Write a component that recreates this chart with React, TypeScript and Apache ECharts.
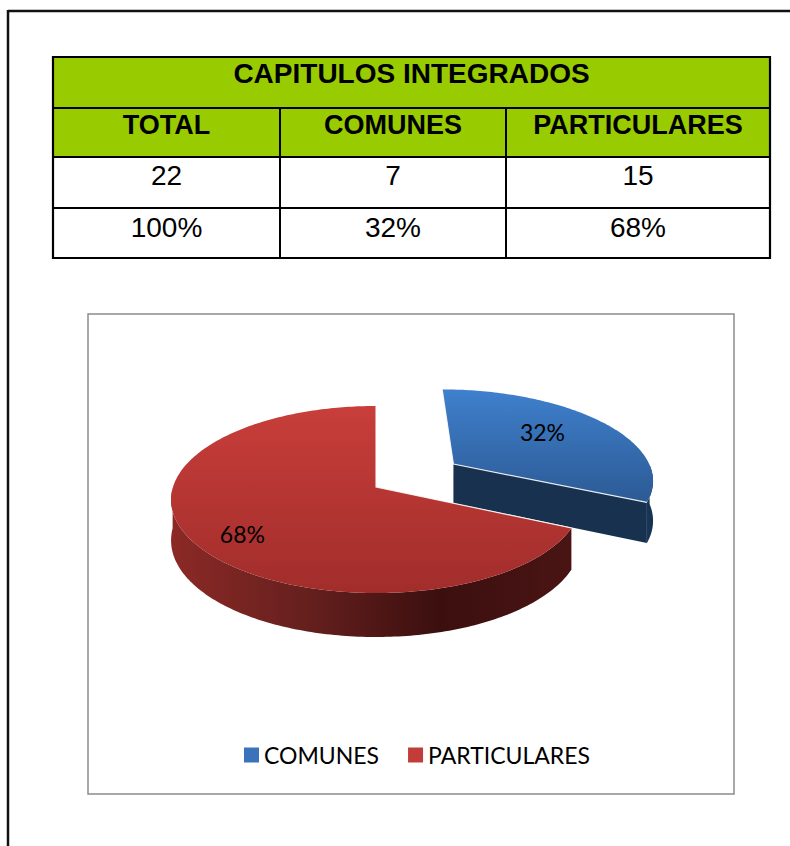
import React, { useEffect, useRef } from "react";
import * as echarts from "echarts";

// ---------- data ----------
const tableTitle = "CAPITULOS INTEGRADOS";
const tableHeaders = ["TOTAL", "COMUNES", "PARTICULARES"];
const tableCounts = ["22", "7", "15"];
const tablePercents = ["100%", "32%", "68%"];

const categories = ["COMUNES", "PARTICULARES"];
const chapterCounts = [7, 15];

// ---------- layout / style ----------
const TABLE_X = [53, 280, 506, 770];
const TABLE_Y = [57, 108, 157, 208, 258];
const ROW_TEXT_Y = [73, 124.5, 175.5, 227];
const GREEN = "#99cc00";
const BOX = { x: 88, y: 314, w: 646, h: 480 };
const PIE = { cx: 376, cy: 487, a: 203, b: 93.5, c: 12.5, k: 0.14, depth: 40 };
const EXPLODE = [0.47, 0];
const LABEL_R = [0.64, 0.78];
const LABEL_SHIFT_DEG = 5;
const DEG = Math.PI / 180;
const PALETTE = [
  {
    legend: "#3a73b9",
    top: ["#3f80cd", "#2c5a95"],
    wall: ["#1a3658", "#15304f"],
    face: "#17314f",
  },
  {
    legend: "#c23d39",
    top: ["#c83e3a", "#a12d2b"],
    wall: ["#8c2926", "#66201e", "#3c0f0f", "#4a1414"],
    face: "#5a1a19",
  },
];
const LABEL_FONT = '23px Lato, "Open Sans", sans-serif';

function proj(u: number, v: number): number[] {
  return [PIE.cx + PIE.a * u * (1 + PIE.k * v), PIE.cy + PIE.b * v + PIE.c * v * v];
}
function projBottom(u: number, v: number): number[] {
  const [x, y] = proj(u, v);
  return [x, y + PIE.depth * (1 + 0.1 * v)];
}

function makeRender(i: number) {
  return (params: any, api: any) => {
    const total = chapterCounts.reduce((s, x) => s + x, 0);
    let cum = 0;
    for (let j = 0; j < i; j++) cum += chapterCounts[j];
    const val = api.value(0);
    const a0 = 90 - (360 * cum) / total;
    const a1 = 90 - (360 * (cum + val)) / total;
    const mid = ((a0 + a1) / 2) * DEG;
    const ox = EXPLODE[i] * Math.cos(mid);
    const oy = -EXPLODE[i] * Math.sin(mid);
    const pt = (deg: number, r = 1) => ({
      u: ox + r * Math.cos(deg * DEG),
      v: oy - r * Math.sin(deg * DEG),
    });
    const top = (p: any) => proj(p.u, p.v);
    const bot = (p: any) => projBottom(p.u, p.v);
    const pal = PALETTE[i];
    const steps = Math.max(2, Math.ceil(Math.abs(a1 - a0)));
    const angles: number[] = [];
    for (let s = 0; s <= steps; s++) angles.push(a0 + ((a1 - a0) * s) / steps);
    const center = { u: ox, v: oy };
    const children: any[] = [];

    const radialFace = (deg: number) => {
      const e = pt(deg);
      children.push({
        type: "polygon",
        shape: { points: [top(center), top(e), bot(e), bot(center)] },
        style: { fill: pal.face },
      });
    };
    if (-Math.cos(a0 * DEG) > 0.05) radialFace(a0);
    if (Math.cos(a1 * DEG) > 0.05) radialFace(a1);

    let run: any[] = [];
    const flush = () => {
      if (run.length > 1) {
        const stops = pal.wall.map((c, k) => ({ offset: k / (pal.wall.length - 1), color: c }));
        children.push({
          type: "polygon",
          shape: { points: run.map(top).concat(run.slice().reverse().map(bot)) },
          style: { fill: new echarts.graphic.LinearGradient(0, 0, 1, 0, stops) },
        });
      }
      run = [];
    };
    for (const d of angles) {
      if (Math.sin(d * DEG) <= 1e-6) run.push(pt(d));
      else flush();
    }
    flush();

    children.push({
      type: "polygon",
      shape: { points: [top(center)].concat(angles.map((d) => top(pt(d)))) },
      style: {
        fill: new echarts.graphic.LinearGradient(0, 0, 0, 1, [
          { offset: 0, color: pal.top[0] },
          { offset: 1, color: pal.top[1] },
        ]),
      },
    });
    children.push({
      type: "polyline",
      shape: { points: [top(pt(a0)), top(center), top(pt(a1))] },
      style: { stroke: "rgba(255,255,255,0.85)", lineWidth: 1.2, fill: null },
    });

    const lp = pt((a0 + a1) / 2 + LABEL_SHIFT_DEG, LABEL_R[i]);
    const [lx, ly] = top(lp);
    children.push({
      type: "text",
      style: {
        text: Math.round((val / total) * 100) + "%",
        x: lx,
        y: ly,
        fill: "#000",
        font: LABEL_FONT,
        align: "center",
        verticalAlign: "middle",
        textAlign: "center",
        textVerticalAlign: "middle",
      },
    });
    return { type: "group", children };
  };
}

function tableGraphics(): any[] {
  const els: any[] = [];
  const [x0, x1, x2, x3] = TABLE_X;
  const [y0, y1, y2, y3, y4] = TABLE_Y;
  els.push({ type: "rect", shape: { x: x0, y: y0, width: x3 - x0, height: y2 - y0 }, style: { fill: GREEN } });
  const line = (ax: number, ay: number, bx: number, by: number) => ({
    type: "line",
    shape: { x1: ax, y1: ay, x2: bx, y2: by },
    style: { stroke: "#000", lineWidth: 2 },
  });
  els.push(line(x0, y1, x3, y1), line(x0, y2, x3, y2), line(x0, y3, x3, y3));
  els.push(line(x1, y1, x1, y4), line(x2, y1, x2, y4));
  els.push({
    type: "rect",
    shape: { x: x0, y: y0, width: x3 - x0, height: y4 - y0 },
    style: { fill: null, stroke: "#000", lineWidth: 2.2 },
  });
  const txt = (text: string, x: number, y: number, font: string) => ({
    type: "text",
    style: {
      text, x, y, font, fill: "#000",
      align: "center", verticalAlign: "middle", textAlign: "center", textVerticalAlign: "middle",
    },
  });
  els.push(txt(tableTitle, (x0 + x3) / 2, ROW_TEXT_Y[0], 'bold 28px "Liberation Sans", Arial, sans-serif'));
  const colMid = [(x0 + x1) / 2, (x1 + x2) / 2, (x2 + x3) / 2];
  tableHeaders.forEach((h, k) => els.push(txt(h, colMid[k], ROW_TEXT_Y[1], 'bold 27px "Liberation Sans", Arial, sans-serif')));
  tableCounts.forEach((h, k) => els.push(txt(h, colMid[k], ROW_TEXT_Y[2], '28px "Liberation Sans", Arial, sans-serif')));
  tablePercents.forEach((h, k) => els.push(txt(h, colMid[k], ROW_TEXT_Y[3], '28px "Liberation Sans", Arial, sans-serif')));
  return els;
}

export default function App() {
  const ref = useRef<HTMLDivElement>(null);
  useEffect(() => {
    if (!ref.current) return;
    const chart = echarts.init(ref.current, null, { renderer: "svg" });
    const option: any = {
      animation: false,
      backgroundColor: "#ffffff",
      legend: {
        data: categories.map((name) => ({ name, icon: "rect" })),
        left: 244,
        top: 743,
        padding: 0,
        itemWidth: 15,
        itemHeight: 15,
        itemGap: 29,
        selectedMode: false,
        textStyle: { fontFamily: 'Lato, "Open Sans", sans-serif', fontSize: 23, color: "#000", lineHeight: 24 },
      },
      graphic: {
        elements: [
          {
            type: "line",
            shape: { x1: 8, y1: 11, x2: 790, y2: 11 },
            style: { stroke: "#111", lineWidth: 2.5 },
          },
          {
            type: "line",
            shape: { x1: 8, y1: 10, x2: 8, y2: 846 },
            style: { stroke: "#111", lineWidth: 2.5 },
          },
          {
            type: "rect",
            shape: { x: BOX.x, y: BOX.y, width: BOX.w, height: BOX.h },
            style: { fill: null, stroke: "#8c8c8c", lineWidth: 1.5 },
          },
          ...tableGraphics(),
        ],
      },
      series: categories.map((name, i) => ({
        type: "custom",
        name,
        coordinateSystem: "none",
        renderItem: makeRender(i),
        data: [[chapterCounts[i]]],
        itemStyle: { color: PALETTE[i].legend },
        silent: true,
      })),
    };
    chart.setOption(option);
    return () => chart.dispose();
  }, []);
  return (
    <div
      ref={ref}
      style={{ position: "absolute", left: 0, top: 0, width: 790, height: 846, background: "#fff" }}
    />
  );
}
